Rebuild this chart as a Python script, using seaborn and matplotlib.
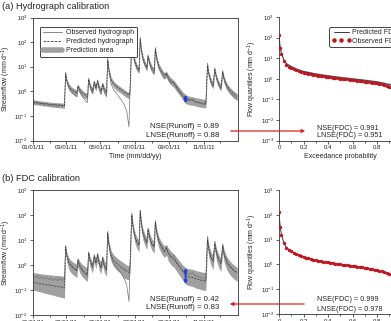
import pandas as pd
import seaborn as sns
import matplotlib.pyplot as plt
import matplotlib.dates as mdates
from matplotlib.lines import Line2D
from matplotlib.patches import FancyArrowPatch
from matplotlib.ticker import LogLocator, NullLocator, MultipleLocator

sns.set_style('ticks')
plt.rcParams['font.family'] = ['Liberation Sans', 'DejaVu Sans']
plt.rcParams['mathtext.fontset'] = 'custom'
plt.rcParams['mathtext.rm'] = 'Liberation Sans'
plt.rcParams['mathtext.it'] = 'Liberation Sans:italic'
plt.rcParams['mathtext.bf'] = 'Liberation Sans:bold'

# Hydrograph data (day of 2011, streamflow mm/d)
days = [0, 4, 8, 12, 16, 20, 24, 28, 32, 36, 40, 44, 48, 52, 56,
        58, 60, 64, 68, 73, 78, 80, 83, 88, 93, 97, 99, 102, 106, 109, 112, 115, 118, 121, 124, 127, 131,
        133, 135, 139, 144, 150, 156, 162, 167, 171, 173,
        176, 178, 181, 185, 189, 191, 193, 196, 200, 203, 205, 208, 212, 216, 218, 220, 224, 229, 234, 238,
        241, 246, 251, 256, 261, 266, 272, 278, 284, 290, 296, 302, 308,
        311, 313, 317, 321, 324, 327, 331, 335, 338, 341, 346, 352, 358, 364]

observed = [0.38, 0.31, 0.37, 0.29, 0.34, 0.27, 0.32, 0.26, 0.30, 0.24, 0.29, 0.23, 0.30, 0.24, 0.27,
            6.0, 2.6, 1.3, 1.0, 0.75, 0.6, 1.7, 1.0, 0.6, 0.42, 0.35, 3.4, 1.4, 0.8, 2.6, 1.2, 2.9, 1.1, 0.75, 2.1, 0.9, 0.6,
            22, 7, 2.0, 1.1, 0.75, 0.5, 0.3, 0.16, 0.035, 1.5,
            120, 35, 15, 8, 6, 160, 45, 18, 10, 7.5, 30, 12, 6.5, 5, 60, 22, 9, 5, 3.2, 5.5,
            3.0, 2.1, 2.4, 1.3, 0.9, 0.65, 0.48, 0.42, 0.5, 0.36, 0.33, 0.3, 0.28,
            14, 5, 2.2, 1.5, 9, 3.2, 1.7, 1.2, 7, 2.6, 1.3, 0.85, 0.62, 0.5]

# (a) hydrograph calibration
pred_a = [0.36, 0.35, 0.34, 0.33, 0.32, 0.31, 0.31, 0.30, 0.29, 0.29, 0.28, 0.28, 0.27, 0.27, 0.26,
          5.0, 2.7, 1.6, 1.2, 1.0, 0.85, 1.6, 1.15, 0.85, 0.7, 0.62, 3.0, 1.6, 1.05, 2.3, 1.4, 2.6, 1.35, 1.05, 1.9, 1.15, 0.9,
          18, 8, 3.0, 2.0, 1.5, 1.2, 0.95, 0.8, 0.7, 1.2,
          95, 40, 18, 10, 7.5, 130, 50, 22, 12.5, 9.5, 26, 14, 8.5, 6.8, 50, 24, 11, 6.5, 4.5, 5.2,
          3.6, 2.6, 2.1, 1.5, 1.05, 0.75, 0.52, 0.45, 0.42, 0.38, 0.35, 0.33, 0.31,
          11, 5.5, 2.6, 1.8, 7.5, 3.6, 2.0, 1.45, 5.8, 2.9, 1.6, 1.05, 0.78, 0.62]
low_a = [0.29, 0.28, 0.28, 0.27, 0.26, 0.25, 0.25, 0.24, 0.23, 0.23, 0.22, 0.22, 0.21, 0.21, 0.20,
         3.6, 1.9, 1.1, 0.85, 0.7, 0.6, 1.2, 0.8, 0.6, 0.5, 0.45, 2.2, 1.1, 0.75, 1.7, 1.0, 1.9, 0.95, 0.75, 1.4, 0.82, 0.65,
         13, 5.5, 2.1, 1.4, 1.05, 0.85, 0.67, 0.56, 0.5, 0.8,
         70, 28, 12.5, 7, 5.2, 95, 35, 15.5, 8.8, 6.6, 19, 10, 6, 4.8, 36, 17, 7.7, 4.5, 3.1, 3.7,
         2.5, 1.8, 1.45, 1.0, 0.7, 0.48, 0.32, 0.28, 0.27, 0.25, 0.23, 0.22, 0.21,
         8, 3.9, 1.8, 1.25, 5.4, 2.5, 1.4, 1.0, 4.2, 2.0, 1.1, 0.72, 0.53, 0.42]
up_a = [0.46, 0.44, 0.43, 0.41, 0.40, 0.39, 0.38, 0.37, 0.36, 0.35, 0.35, 0.34, 0.34, 0.33, 0.33,
        6.5, 3.3, 2.0, 1.55, 1.3, 1.1, 2.0, 1.45, 1.1, 0.9, 0.8, 3.6, 2.0, 1.35, 2.8, 1.8, 3.1, 1.75, 1.35, 2.4, 1.5, 1.2,
        24, 10, 3.8, 2.5, 1.9, 1.5, 1.2, 1.0, 0.9, 1.6,
        130, 52, 23, 13, 9.5, 170, 62, 28, 16, 12, 33, 18, 11, 8.7, 65, 30, 14, 8.3, 5.8, 6.6,
        4.8, 3.5, 2.8, 2.0, 1.4, 1.0, 0.73, 0.64, 0.6, 0.55, 0.52, 0.49, 0.46,
        15, 7, 3.4, 2.35, 9.5, 4.6, 2.6, 1.9, 7.4, 3.7, 2.05, 1.35, 1.0, 0.8]

# (b) FDC calibration
pred_b = [0.20, 0.19, 0.19, 0.18, 0.17, 0.17, 0.16, 0.16, 0.15, 0.15, 0.14, 0.14, 0.13, 0.13, 0.12,
          5.2, 2.4, 1.2, 0.9, 0.7, 0.6, 1.5, 0.9, 0.6, 0.48, 0.42, 3.0, 1.4, 0.85, 2.2, 1.2, 2.5, 1.1, 0.8, 1.8, 0.9, 0.65,
          19, 7, 2.5, 1.5, 1.1, 0.85, 0.68, 0.57, 0.5, 1.0,
          100, 38, 16, 8.5, 6.5, 140, 45, 19, 10.5, 8, 27, 12, 7, 5.6, 52, 22, 9.5, 5.5, 3.7, 4.6,
          3.0, 2.1, 1.7, 1.2, 0.85, 0.6, 0.38, 0.33, 0.32, 0.28, 0.26, 0.24, 0.22,
          10, 4.5, 2.1, 1.4, 7, 3, 1.6, 1.15, 5.5, 2.4, 1.25, 0.82, 0.6, 0.48]
low_b = [0.10, 0.095, 0.09, 0.085, 0.08, 0.075, 0.072, 0.068, 0.065, 0.062, 0.058, 0.055, 0.052, 0.05, 0.047,
         3.0, 1.3, 0.65, 0.48, 0.38, 0.32, 0.9, 0.5, 0.33, 0.26, 0.22, 1.8, 0.8, 0.47, 1.3, 0.7, 1.5, 0.62, 0.45, 1.05, 0.5, 0.36,
         11, 4, 1.4, 0.85, 0.6, 0.47, 0.3, 0.27, 0.25, 0.5,
         60, 20, 8.5, 4.6, 3.4, 80, 25, 10, 5.6, 4.2, 15, 6.5, 3.8, 3, 30, 12, 5, 2.9, 2.0, 2.5,
         1.5, 1.0, 0.82, 0.56, 0.38, 0.26, 0.17, 0.15, 0.14, 0.12, 0.11, 0.1, 0.095,
         5.5, 2.3, 1.0, 0.65, 4, 1.5, 0.78, 0.55, 3, 1.2, 0.6, 0.38, 0.28, 0.22]
up_b = [0.50, 0.48, 0.47, 0.45, 0.44, 0.43, 0.42, 0.41, 0.40, 0.39, 0.38, 0.38, 0.37, 0.36, 0.36,
        6.5, 3.2, 1.9, 1.5, 1.25, 1.05, 2.0, 1.4, 1.05, 0.85, 0.78, 3.6, 2.0, 1.3, 2.8, 1.7, 3.1, 1.7, 1.3, 2.4, 1.45, 1.15,
        24, 10, 3.8, 2.5, 1.85, 1.5, 1.2, 1.0, 0.9, 1.6,
        130, 52, 23, 13, 9.5, 170, 62, 28, 16, 12, 33, 18, 11, 8.7, 65, 30, 14, 8.3, 5.8, 6.6,
        4.8, 3.5, 2.8, 2.0, 1.45, 1.05, 0.78, 0.7, 0.68, 0.6, 0.56, 0.52, 0.5,
        15, 7, 3.4, 2.35, 9.5, 4.6, 2.6, 1.9, 7.4, 3.7, 2.05, 1.35, 1.0, 0.8]

arrow_day = 272

# Flow duration curves
fdc_p = [0, 0.01, 0.02, 0.04, 0.06, 0.08, 0.10, 0.12, 0.14, 0.16, 0.18, 0.20, 0.22, 0.24, 0.26, 0.28,
         0.30, 0.32, 0.34, 0.36, 0.38, 0.40, 0.42, 0.44, 0.46, 0.48, 0.50, 0.52, 0.54, 0.56, 0.58, 0.60,
         0.62, 0.64, 0.66, 0.68, 0.70, 0.72, 0.74, 0.76, 0.78, 0.80, 0.82, 0.84, 0.86, 0.88, 0.90, 0.92,
         0.94, 0.96, 0.98, 1.00]
fdc_obs = [130, 32, 16, 7.2, 4.8, 3.9, 3.4, 2.9, 2.6, 2.35, 2.15, 2.0, 1.85, 1.75, 1.65, 1.55,
           1.48, 1.42, 1.36, 1.30, 1.25, 1.20, 1.16, 1.12, 1.08, 1.05, 1.01, 0.98, 0.95, 0.92, 0.89, 0.86,
           0.83, 0.80, 0.78, 0.75, 0.73, 0.70, 0.68, 0.65, 0.62, 0.59, 0.56, 0.53, 0.49, 0.45, 0.41, 0.36,
           0.31, 0.27, 0.22, 0.08]
fdc_pp = [0, 0.01, 0.02, 0.04, 0.06, 0.1, 0.15, 0.2, 0.3, 0.4, 0.5, 0.6, 0.7, 0.8, 0.9, 0.95, 1.0]
fdc_pred_a = [125, 30, 17, 8.0, 5.4, 3.9, 2.8, 2.25, 1.7, 1.38, 1.15, 0.98, 0.84, 0.7, 0.52, 0.42, 0.2]
fdc_low_a = [110, 27, 15, 7.2, 4.8, 3.5, 2.5, 2.0, 1.5, 1.22, 1.02, 0.87, 0.74, 0.61, 0.45, 0.36, 0.15]
fdc_up_a = [140, 34, 19, 8.9, 6.1, 4.4, 3.2, 2.6, 1.95, 1.6, 1.34, 1.14, 0.98, 0.82, 0.62, 0.5, 0.26]
fdc_pred_b = [120, 31, 16, 7.3, 4.8, 3.4, 2.45, 2.0, 1.48, 1.2, 1.01, 0.86, 0.73, 0.59, 0.41, 0.3, 0.1]

dates = pd.Timestamp('2011-01-01') + pd.to_timedelta(days, unit='D')
ia = days.index(arrow_day)

W, H = 391, 321
fig = plt.figure(figsize=(W / 100, H / 100), dpi=100)


def box(l, t, r, b):
    return [l / W, 1 - b / H, (r - l) / W, (b - t) / H]


def style_axes(ax, ylo):
    ax.set_yscale('log')
    ax.set_ylim(ylo, 1e3)
    ax.yaxis.set_major_locator(LogLocator(base=10, numticks=12))
    ax.yaxis.set_minor_locator(NullLocator())
    ax.tick_params(which='both', direction='out', width=0.5, labelsize=4.3, pad=1, colors='#222222')
    ax.tick_params(which='major', length=2.5)
    ax.tick_params(which='minor', length=1.5)
    for s in ax.spines.values():
        s.set_linewidth(0.6)
        s.set_color('#333333')


def hydrograph(ax, pred, low, up):
    ax.fill_between(dates, low, up, color='#a0a0a0', lw=0)
    sns.lineplot(x=dates, y=observed, ax=ax, color='#747474', lw=0.5)
    sns.lineplot(x=dates, y=pred, ax=ax, color='#383838', lw=0.5, linestyle=(0, (3, 1.5)))
    style_axes(ax, 1e-2)
    ax.set_xlim(pd.Timestamp('2010-12-31'), pd.Timestamp('2011-12-31 12:00'))
    ax.xaxis.set_major_locator(mdates.MonthLocator(bymonth=[1, 3, 5, 7, 9, 11]))
    ax.xaxis.set_minor_locator(mdates.MonthLocator())
    ax.xaxis.set_major_formatter(mdates.DateFormatter('%m/%d/%y'))
    ax.set_ylabel('Streamflow (mm d$^{-1}$)', fontsize=5, labelpad=1)
    ax.set_xlabel('Time (mm/dd/yy)', fontsize=5, labelpad=2)
    ax.annotate('', xy=(dates[ia], up[ia]), xytext=(dates[ia], low[ia]),
                arrowprops=dict(arrowstyle='<|-|>', color='#1f3fe0', lw=1.3, mutation_scale=4,
                                shrinkA=0, shrinkB=0))


def fdc(ax, ylo, pred, low=None, up=None):
    if low is not None:
        ax.fill_between(fdc_pp, low, up, color='#b4b4b4', lw=0)
    sns.lineplot(x=fdc_pp, y=pred, ax=ax, color='#3a3a3a', lw=0.7)
    sns.scatterplot(x=fdc_p, y=fdc_obs, ax=ax, color='#c0141e', s=6, linewidth=0, zorder=3)
    style_axes(ax, ylo)
    ax.set_xlim(0, 1)
    ax.xaxis.set_major_locator(MultipleLocator(0.2))
    ax.xaxis.set_minor_locator(MultipleLocator(0.1))
    ax.xaxis.set_major_formatter(plt.FuncFormatter(lambda v, p: '0' if v == 0 else f'{v:.1f}'))
    ax.spines['top'].set_visible(False)
    ax.set_ylabel('Flow quantiles (mm d$^{-1}$)', fontsize=5, labelpad=1)
    ax.set_xlabel('Exceedance probability', fontsize=5, labelpad=2)


ax1 = fig.add_axes(box(32.5, 17.5, 237.5, 140.5))
ax2 = fig.add_axes(box(279, 17, 401.5, 140.5))
ax3 = fig.add_axes(box(32.5, 190, 237.5, 315))
ax4 = fig.add_axes(box(279, 190, 401.5, 314))

hydrograph(ax1, pred_a, low_a, up_a)
hydrograph(ax3, pred_b, low_b, up_b)
fdc(ax2, 1e-3, fdc_pred_a, fdc_low_a, fdc_up_a)
fdc(ax4, 1e-2, fdc_pred_b)

handles = [Line2D([], [], color='#747474', lw=0.6),
           Line2D([], [], color='#383838', lw=0.6, linestyle=(0, (3, 1.5))),
           Line2D([], [], color='#a0a0a0', lw=4)]
ax1.legend(handles, ['Observed hydrograph', 'Predicted hydrograph', 'Prediction area'],
           loc='upper left', bbox_to_anchor=(0.02, 0.955), fontsize=5, handlelength=2.8,
           frameon=True, fancybox=True, edgecolor='#222222', framealpha=1,
           borderpad=0.4, labelspacing=0.3, handletextpad=0.6)
ax1.get_legend().get_frame().set_linewidth(0.6)

handles2 = [Line2D([], [], color='#3a3a3a', lw=0.7),
            Line2D([], [], color='#c0141e', marker='o', ms=2.2, lw=0)]
leg2 = ax2.legend(handles2, ['Predicted FDC', 'Observed FDC'], loc='upper left',
                  bbox_to_anchor=((326 - 279) / 122.5, 0.945), fontsize=5, handlelength=2.8,
                  numpoints=3, frameon=True, fancybox=True, edgecolor='#222222', framealpha=1,
                  borderpad=0.3, labelspacing=0.2, handletextpad=0.2)
leg2.get_frame().set_linewidth(0.6)

# goodness of fit labels
ax1.text(0.91, 0.11, 'NSE(Runoff) = 0.89', transform=ax1.transAxes, ha='right', va='center', fontsize=5.7)
ax1.text(0.91, 0.037, 'LNSE(Runoff) = 0.88', transform=ax1.transAxes, ha='right', va='center', fontsize=5.7)
ax3.text(0.91, 0.126, 'NSE(Runoff) = 0.42', transform=ax3.transAxes, ha='right', va='center', fontsize=5.7)
ax3.text(0.91, 0.058, 'LNSE(Runoff) = 0.83', transform=ax3.transAxes, ha='right', va='center', fontsize=5.7)
ax2.text(0.31, 0.10, 'NSE(FDC) = 0.991', transform=ax2.transAxes, ha='left', va='center', fontsize=5.2)
ax2.text(0.31, 0.037, 'LNSE(FDC) = 0.951', transform=ax2.transAxes, ha='left', va='center', fontsize=5.2)
ax4.text(0.31, 0.113, 'NSE(FDC) = 0.999', transform=ax4.transAxes, ha='left', va='center', fontsize=5.2)
ax4.text(0.31, 0.035, 'LNSE(FDC) = 0.978', transform=ax4.transAxes, ha='left', va='center', fontsize=5.2)

fig.text(2 / W, 1 - 6.5 / H, '(a) Hydrograph calibration', fontsize=6.7, va='center', ha='left')
fig.text(2 / W, 1 - 179 / H, '(b) FDC calibration', fontsize=6.7, va='center', ha='left')

# red arrows linking the panels
for (x0, x1, y) in [(228, 308, 131), (307, 227, 304)]:
    fig.add_artist(FancyArrowPatch((x0 / W, 1 - y / H), (x1 / W, 1 - y / H),
                                   transform=fig.transFigure, arrowstyle='-|>',
                                   mutation_scale=5, color='#e02424', lw=0.9))

fig.savefig('out.png', dpi=100)
